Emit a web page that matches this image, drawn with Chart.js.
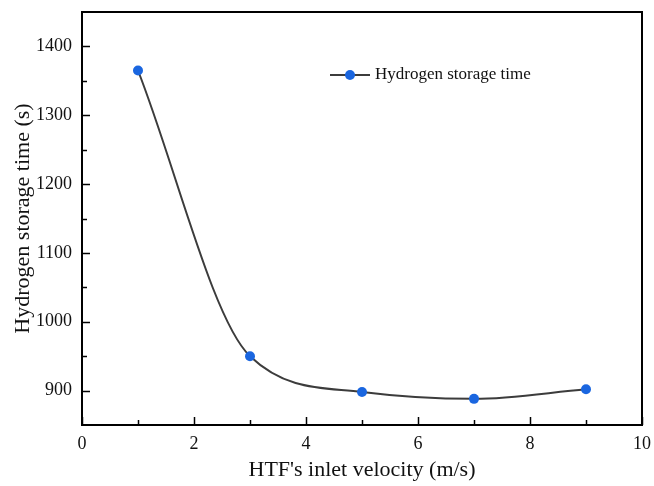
<!DOCTYPE html>
<html><head><meta charset="utf-8">
<script src="https://cdn.jsdelivr.net/npm/chart.js@4/dist/chart.umd.min.js"></script>
<style>html,body{margin:0;padding:0;background:#fff}#wrap{width:654px;height:486px}</style>
</head><body><div id="wrap"><canvas id="c" width="654" height="486"></canvas></div>
<script>
const velocities = [1, 3, 5, 7, 9];
const storageTime = [1365, 950, 898, 888, 902];
const xTicks = [0, 2, 4, 6, 8, 10];
const yTicks = [900, 1000, 1100, 1200, 1300, 1400];
const seriesName = "Hydrogen storage time";
const xTitle = "HTF's inlet velocity (m/s)";
const yTitle = "Hydrogen storage time (s)";

const FONT = "'Liberation Serif','Times New Roman',serif";
const lineColor = '#3c3c3c';
const dotColor = '#1a66e0';

const frame = {
  id: 'frame',
  afterDraw(chart) {
    const ctx = chart.ctx, a = chart.chartArea;
    const xs = chart.scales.x, ys = chart.scales.y;
    ctx.save();
    ctx.strokeStyle = '#000';
    ctx.lineWidth = 2;
    ctx.strokeRect(a.left, a.top, a.right - a.left, a.bottom - a.top);
    ctx.lineWidth = 1.5;
    for (let v = 0; v <= 10; v += 1) {
      const px = Math.round(xs.getPixelForValue(v)) + 0.5;
      const len = (v % 2 === 0) ? 8 : 5;
      ctx.beginPath(); ctx.moveTo(px, a.bottom); ctx.lineTo(px, a.bottom - len); ctx.stroke();
    }
    for (let v = 900; v <= 1400; v += 50) {
      const py = Math.round(ys.getPixelForValue(v)) + 0.5;
      const len = (v % 100 === 0) ? 8 : 5;
      ctx.beginPath(); ctx.moveTo(a.left, py); ctx.lineTo(a.left + len, py); ctx.stroke();
    }
    const lx = 330, ly = 75;
    ctx.strokeStyle = lineColor; ctx.lineWidth = 2;
    ctx.beginPath(); ctx.moveTo(lx, ly); ctx.lineTo(lx + 40, ly); ctx.stroke();
    ctx.fillStyle = dotColor;
    ctx.beginPath(); ctx.arc(lx + 20, ly, 5, 0, Math.PI * 2); ctx.fill();
    ctx.fillStyle = '#111';
    ctx.font = '17px ' + FONT;
    ctx.textBaseline = 'middle'; ctx.textAlign = 'left';
    ctx.fillText(seriesName, lx + 45, ly);
    ctx.restore();
  }
};

new Chart(document.getElementById('c'), {
  type: 'line',
  data: {
    datasets: [{
      label: seriesName,
      data: velocities.map((v, i) => ({x: v, y: storageTime[i]})),
      borderColor: lineColor,
      borderWidth: 2,
      backgroundColor: dotColor,
      pointBackgroundColor: dotColor,
      pointBorderWidth: 0,
      pointRadius: 5,
      cubicInterpolationMode: 'monotone',
      fill: false
    }]
  },
  options: {
    responsive: false,
    animation: false,
    layout: {padding: {left: 0, right: 12, top: 12, bottom: 0}},
    plugins: {legend: {display: false}, tooltip: {enabled: false}},
    scales: {
      x: {
        type: 'linear', min: 0, max: 10,
        afterBuildTicks(s) { s.ticks = xTicks.map(v => ({value: v})); },
        afterFit(s) { s.height = 61; s.paddingLeft = 0; s.paddingRight = 0; },
        grid: {display: false, drawTicks: false},
        border: {display: false},
        ticks: {color: '#111', font: {family: FONT, size: 18}, padding: 8, maxRotation: 0, callback: v => String(v)},
        title: {display: true, text: xTitle, color: '#111', font: {family: FONT, size: 22}, padding: {top: 3, bottom: 3}}
      },
      y: {
        type: 'linear', min: 850, max: 1450,
        afterBuildTicks(s) { s.ticks = yTicks.map(v => ({value: v})); },
        afterFit(s) { s.width = 82; s.paddingTop = 0; s.paddingBottom = 0; },
        grid: {display: false, drawTicks: false},
        border: {display: false},
        ticks: {color: '#111', font: {family: FONT, size: 18}, padding: 10, callback: v => String(v)},
        title: {display: true, text: yTitle, color: '#111', font: {family: FONT, size: 22}, padding: {top: 10, bottom: 4}}
      }
    }
  },
  plugins: [frame]
});
</script></body></html>
